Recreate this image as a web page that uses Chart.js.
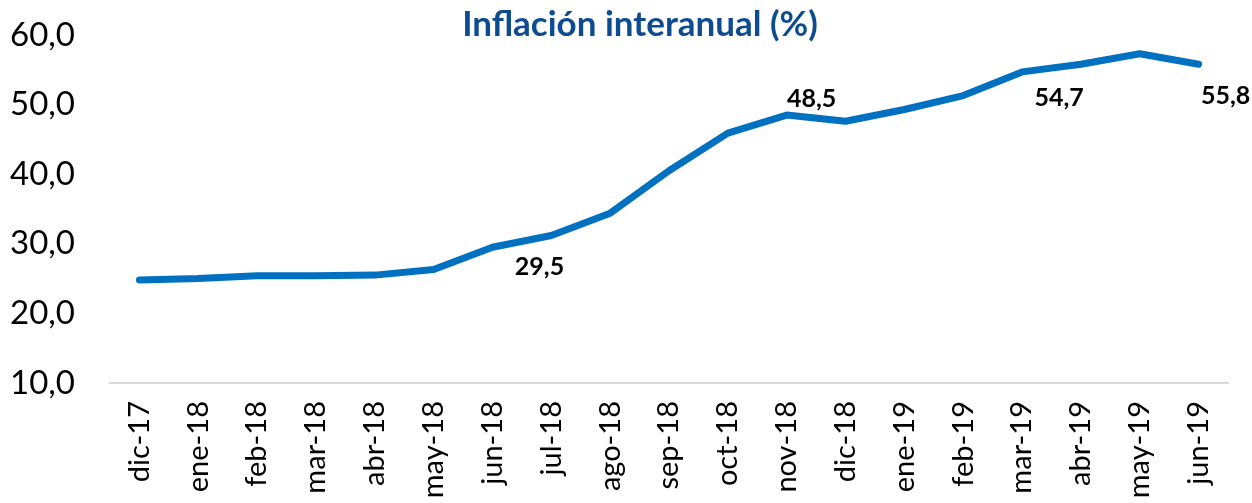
<!DOCTYPE html>
<html>
<head>
<meta charset="utf-8">
<script src="https://cdn.jsdelivr.net/npm/chart.js@4/dist/chart.umd.min.js"></script>
<style>
  html, body { margin: 0; padding: 0; background: #fff; }
  #wrap { width: 1252px; height: 503px; position: relative; }
</style>
</head>
<body>
<div id="wrap"><canvas id="inflChart"></canvas></div>
<script>
const months = ['dic-17','ene-18','feb-18','mar-18','abr-18','may-18','jun-18','jul-18','ago-18','sep-18','oct-18','nov-18','dic-18','ene-19','feb-19','mar-19','abr-19','may-19','jun-19'];
const inflation = [24.8, 25.0, 25.4, 25.4, 25.5, 26.3, 29.5, 31.2, 34.4, 40.5, 45.9, 48.5, 47.6, 49.3, 51.3, 54.7, 55.8, 57.3, 55.8];
// which points get a value label, and where it sits relative to the point
const labelIdx = [6, 11, 15, 18];
const labelOffsets = [[47, 20], [25, -16], [37, 26], [27, 32]];
const yTicks = [10, 20, 30, 40, 50, 60];

const fmt = v => v.toFixed(1).replace('.', ',');

const titlePlugin = {
  id: 'titleText',
  afterDraw(chart) {
    const ctx = chart.ctx;
    ctx.save();
    ctx.font = 'bold 35px Lato';
    ctx.fillStyle = '#0E4C92';
    ctx.textAlign = 'center';
    ctx.textBaseline = 'middle';
    ctx.fillText('Inflación interanual (%)', 640, 25);
    ctx.restore();
  }
};

const valueLabels = {
  id: 'valueLabels',
  afterDatasetsDraw(chart) {
    const ctx = chart.ctx;
    const meta = chart.getDatasetMeta(0);
    ctx.save();
    ctx.font = 'bold 25px Lato';
    ctx.fillStyle = '#000';
    ctx.textAlign = 'center';
    ctx.textBaseline = 'middle';
    labelIdx.forEach((i, k) => {
      const pt = meta.data[i];
      ctx.fillText(fmt(inflation[i]), pt.x + labelOffsets[k][0], pt.y + labelOffsets[k][1]);
    });
    ctx.restore();
  }
};

new Chart(document.getElementById('inflChart'), {
  type: 'line',
  data: {
    labels: months,
    datasets: [{
      data: inflation,
      borderColor: '#0070C0',
      borderWidth: 7,
      borderCapStyle: 'round',
      borderJoinStyle: 'round',
      pointRadius: 0,
      tension: 0,
      fill: false
    }]
  },
  options: {
    responsive: true,
    maintainAspectRatio: false,
    animation: false,
    layout: { padding: { top: 35, left: 10, right: 24, bottom: 0 } },
    plugins: { legend: { display: false }, tooltip: { enabled: false } },
    scales: {
      x: {
        offset: true,
        grid: { display: false, drawTicks: false },
        border: { display: true, color: '#D9D9D9', width: 2 },
        ticks: { color: '#000', font: { family: 'Lato', size: 29 }, minRotation: 90, maxRotation: 90, autoSkip: false, padding: 18 },
        afterFit: s => { s.paddingLeft = 0; s.paddingRight = 0; s.height = 120; }
      },
      y: {
        min: 10,
        max: 60,
        afterBuildTicks: axis => { axis.ticks = yTicks.map(v => ({ value: v })); },
        grid: { display: false, drawTicks: false },
        border: { display: false },
        ticks: { color: '#000', font: { family: 'Lato', size: 33 }, padding: 35, callback: v => fmt(v) },
        afterFit: s => { s.paddingTop = 0; s.paddingBottom = 0; s.width = 100; }
      }
    }
  },
  plugins: [titlePlugin, valueLabels]
});
</script>
</body>
</html>
